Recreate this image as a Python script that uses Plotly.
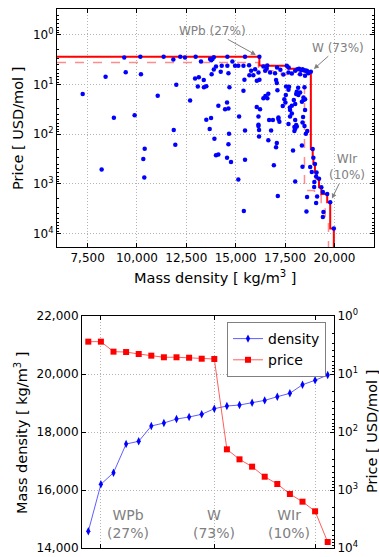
import plotly.graph_objects as go
import math

W, H = 379, 557

# ---------------- data ----------------
# Pareto-front alloys (shown in both panels)
front_density = [14576, 16197, 16597, 17586, 17679, 18207, 18310, 18448, 18517, 18610,
                 18803, 18897, 18931, 19010, 19090, 19217, 19334, 19631, 19783, 19966]
front_price = [2.77, 2.77, 4.12, 4.18, 4.52, 4.83, 5.15, 5.15, 5.24, 5.45,
               5.51, 199, 296, 396, 590, 788, 1172, 1590, 2330, 7880]

# other candidate alloys (top panel scatter)
alloy_density = [
    7250, 8210, 8410, 8830, 9355, 9430, 9880, 10170, 10200, 10320, 10390, 10370, 11050, 11350,
    11840, 11860, 11940, 11990, 12190, 12430, 12690, 12970, 12940, 13130, 13080, 13240, 13380,
    13390, 13510, 13510, 13750, 13700, 13760, 13890, 13820, 13890, 13780, 13680, 13920, 14000,
    14000, 14290, 14575, 14830, 14965, 15130, 14240, 14630, 15470, 15390, 15675, 15780, 15690,
    15890, 16150, 16400, 16490, 16740, 16990, 17090, 17260, 17410, 17670, 17840, 18010, 18510,
    18260, 15440, 16070, 16200, 17040, 17080, 14680, 15390, 17550, 17700, 17670, 18160, 18480,
    17110, 16650, 16500, 16600, 16400, 17535, 17460, 17515, 17380, 17740, 17840, 17940, 18010,
    18260, 18060, 18430, 18510, 14120, 14560, 14630, 14460, 15170, 16230, 16065, 16690, 16880,
    17160, 16150, 17750, 18410, 18380, 16150, 17670, 17970, 18090, 14660, 15470, 16790, 16180,
    16650, 17080, 17040, 18010, 17970, 14630, 14120, 14560, 14760, 15470, 16930, 17900, 18350,
    18380, 15130, 18010, 17130, 15410, 18610, 18580, 18770, 18850, 18980, 18970, 19070, 19120,
    19070, 19410, 19440, 19410, 18620, 18550, 18380, 18600, 18680, 18120, 15980, 16570, 18430,
    18510, 18480, 18090, 18170, 18350, 17160, 17210, 16150, 16180, 17750, 17840, 18010, 18060]
alloy_price = [
    15.6, 511, 7.0, 46.8, 2.85, 5.63, 41.3, 2.77, 6.18, 317, 197, 740, 16.9, 2.77,
    3.13, 82.7, 163, 10.1, 2.77, 2.85, 20.9, 2.77, 7.54, 7.10, 10.9, 3.43, 8.15,
    11.4, 10.8, 51.3, 47.4, 3.08, 3.23, 2.81, 3.08, 4.97, 6.18, 78.9, 124, 264,
    4.32, 4.21, 4.21, 3.43, 4.21, 4.21, 5.55, 5.90, 2.77, 4.21, 4.07, 5.30, 6.47,
    6.47, 5.71, 4.32, 5.30, 5.71, 5.90, 4.53, 5.06, 6.26, 5.71, 5.98, 5.30, 6.68,
    6.18, 8.04, 8.43, 8.04, 8.15, 9.37, 11.3, 13.4, 10.9, 11.1, 12.8, 11.6, 11.4,
    13.0, 15.4, 17.1, 19.0, 18.8, 16.3, 19.7, 22.9, 27.2, 28.9, 26.8, 20.6, 24.8,
    14.4, 15.6, 18.2, 19.7, 26.8, 22.9, 30.3, 31.3, 43.8, 31.3, 28.5, 52.0, 52.0,
    49.7, 43.8, 43.8, 45.3, 57.9, 64.7, 62.6, 72.0, 69.7, 98.2, 83.9, 83.9, 111,
    133, 151, 182, 77.9, 86.6, 160, 255, 298, 364, 327, 419, 212, 168,
    453, 811, 891, 1760, 3520, 1840, 3580, 459, 579, 920, 1160, 707, 1790,
    2430, 1460, 3690, 4660, 86.6, 98.2, 4.90, 5.30, 5.90, 4.90, 4.90, 4.74, 20.6,
    32.7, 68.7, 14.0, 16.3, 22.3, 45.9, 56.2, 68.7, 82.6, 32.7, 38.1, 52.0, 65.6]

# alternative (dashed) front
alt_density = [16150, 17300, 18480, 18650, 18985, 19325, 19528, 19696]
alt_price = [3.6, 5.3, 6.3, 972, 1352, 1705, 2930, 5870]

density_ticks = [7500, 10000, 12500, 15000, 17500, 20000]
density_ticktext = ['7,500', '10,000', '12,500', '15,000', '17,500', '20,000']
price_ticks = [1, 10, 100, 1000, 10000]
price_ticktext = ['10<sup>0</sup>', '10<sup>1</sup>', '10<sup>2</sup>', '10<sup>3</sup>', '10<sup>4</sup>']
bottom_density_ticks = [14000, 16000, 18000, 20000, 22000]
bottom_density_ticktext = ['14,000', '16,000', '18,000', '20,000', '22,000']
group_grid_index = [1, 10, 18]
group_labels = ['WPb<br>(27%)', 'W<br>(73%)', 'WIr<br>(10%)']
group_label_x = [128, 214, 289]
top_labels = ['WPb (27%)', 'W (73%)', 'WIr<br>(10%)']
top_label_targets = [1, 10, 18]

X_MIN, X_MAX = 5950, 22000
Y_TOP_RANGE = [4.27, -0.52]
BIG = 1e6

FONT = 'DejaVu Sans'
GRID = '#b4b4b4'
GRAYTXT = '#808080'

minor_vals = [m * 10 ** e for e in range(-1, 5) for m in range(2, 10)]

fig = go.Figure()

# top: fronts
fig.add_trace(go.Scatter(
    x=[X_MIN] + alt_density + [alt_density[-1]],
    y=[alt_price[0]] + alt_price + [BIG],
    mode='lines', line=dict(color='rgba(255,0,0,0.45)', width=1.5, dash='dash', shape='vh'),
    xaxis='x', yaxis='y', showlegend=False, hoverinfo='skip'))
fig.add_trace(go.Scatter(
    x=[X_MIN] + front_density + [front_density[-1]],
    y=[front_price[0]] + front_price + [BIG],
    mode='lines', line=dict(color='#ff0000', width=2, shape='vh'),
    xaxis='x', yaxis='y', showlegend=False, hoverinfo='skip'))
fig.add_trace(go.Scatter(
    x=alloy_density + front_density, y=alloy_price + front_price,
    mode='markers', marker=dict(color='#0000ff', size=4.5, line=dict(width=0)),
    xaxis='x', yaxis='y', showlegend=False))

# bottom
idx = list(range(len(front_density)))
fig.add_trace(go.Scatter(
    x=idx, y=front_density, name='density', mode='lines+markers',
    line=dict(color='rgba(40,40,255,0.75)', width=1),
    marker=dict(symbol='diamond-tall', size=6, color='#0000ff', line=dict(width=0)),
    xaxis='x2', yaxis='y2'))
fig.add_trace(go.Scatter(
    x=idx, y=front_price, name='price', mode='lines+markers',
    line=dict(color='rgba(255,40,40,0.75)', width=1),
    marker=dict(symbol='square', size=6, color='#ff0000', line=dict(width=0)),
    xaxis='x2', yaxis='y3'))

axis_common = dict(showline=True, linecolor='black', linewidth=1, ticks='inside',
                   ticklen=4, tickcolor='black', automargin=False,
                   gridcolor=GRID, griddash='1px,2px', gridwidth=1, zeroline=False,
                   tickfont=dict(family=FONT, size=12, color='black'))

fig.update_layout(
    width=W, height=H, margin=dict(l=0, r=0, t=0, b=0),
    paper_bgcolor='white', plot_bgcolor='white',
    font=dict(family=FONT, size=12, color='black'),
    xaxis=dict(domain=[57 / W, 374 / W], range=[X_MIN, X_MAX], anchor='y',
               tickmode='array', tickvals=density_ticks, ticktext=density_ticktext,
               mirror='ticks', showgrid=True, **axis_common),
    yaxis=dict(domain=[1 - 247 / H, 1 - 9 / H], type='log', range=Y_TOP_RANGE, anchor='x',
               tickmode='array', tickvals=price_ticks, ticktext=price_ticktext,
               mirror='ticks', showgrid=True,
               minor=dict(ticks='inside', ticklen=2, tickcolor='black', tickmode='array',
                          tickvals=minor_vals, showgrid=False),
               **axis_common),
    xaxis2=dict(domain=[82 / W, 334 / W], range=[-0.5, 19.5], anchor='y2',
                tickmode='array', tickvals=group_grid_index, showticklabels=False,
                mirror='ticks', showgrid=True, **axis_common),
    yaxis2=dict(domain=[1 - 548 / H, 1 - 316 / H], range=[14000, 22000], anchor='x2',
                tickmode='array', tickvals=bottom_density_ticks,
                ticktext=bottom_density_ticktext, showgrid=True, **axis_common),
    yaxis3=dict(type='log', range=[4, 0], overlaying='y2', side='right', anchor='x2',
                tickmode='array', tickvals=price_ticks, ticktext=price_ticktext,
                showgrid=False,
                minor=dict(ticks='inside', ticklen=2, tickcolor='black', tickmode='array',
                           tickvals=minor_vals, showgrid=False),
                **axis_common),
    legend=dict(x=227 / W, y=1 - 322 / H, xanchor='left', yanchor='top',
                bordercolor='#808080', borderwidth=1, bgcolor='white',
                font=dict(family=FONT, size=14, color='black'),
                tracegroupgap=2, itemwidth=30),
)

ann = []
center = dict(xref='paper', yref='paper', showarrow=False, xanchor='center', yanchor='middle')
# axis titles
ann.append(dict(text='Mass density [ kg/m<sup>3</sup> ]', x=215.5 / W, y=1 - 277 / H,
                font=dict(family=FONT, size=14.5, color='black'), **center))
ann.append(dict(text='Price [ USD/mol ]', x=18 / W, y=1 - 129 / H, textangle=-90,
                font=dict(family=FONT, size=14.5, color='black'), **center))
ann.append(dict(text='Mass density [ kg/m<sup>3</sup> ]', x=21 / W, y=1 - 433 / H, textangle=-90,
                font=dict(family=FONT, size=14.5, color='black'), **center))
ann.append(dict(text='Price [ USD/mol ]', x=372 / W, y=1 - 432 / H, textangle=-90,
                font=dict(family=FONT, size=14.5, color='black'), **center))

# top panel labelled arrows (text offsets in pixels)
offsets = [(-47, -26), (27, -24), (17, -35)]
for lab, t, (ax, ay) in zip(top_labels, top_label_targets, offsets):
    ann.append(dict(text=lab, x=front_density[t], y=math.log10(front_price[t]),
                    xref='x', yref='y', xanchor='center', yanchor='middle',
                    showarrow=True, ax=ax, ay=ay, arrowcolor=GRAYTXT, arrowwidth=1,
                    arrowhead=2, arrowsize=1, standoff=4,
                    font=dict(family=FONT, size=12, color=GRAYTXT)))
# bottom panel group labels
for lab, px in zip(group_labels, group_label_x):
    ann.append(dict(text=lab, x=px / W, y=1 - 524 / H,
                    font=dict(family=FONT, size=14, color=GRAYTXT), **center))

fig.update_layout(annotations=ann)
fig.write_html('out.html')
